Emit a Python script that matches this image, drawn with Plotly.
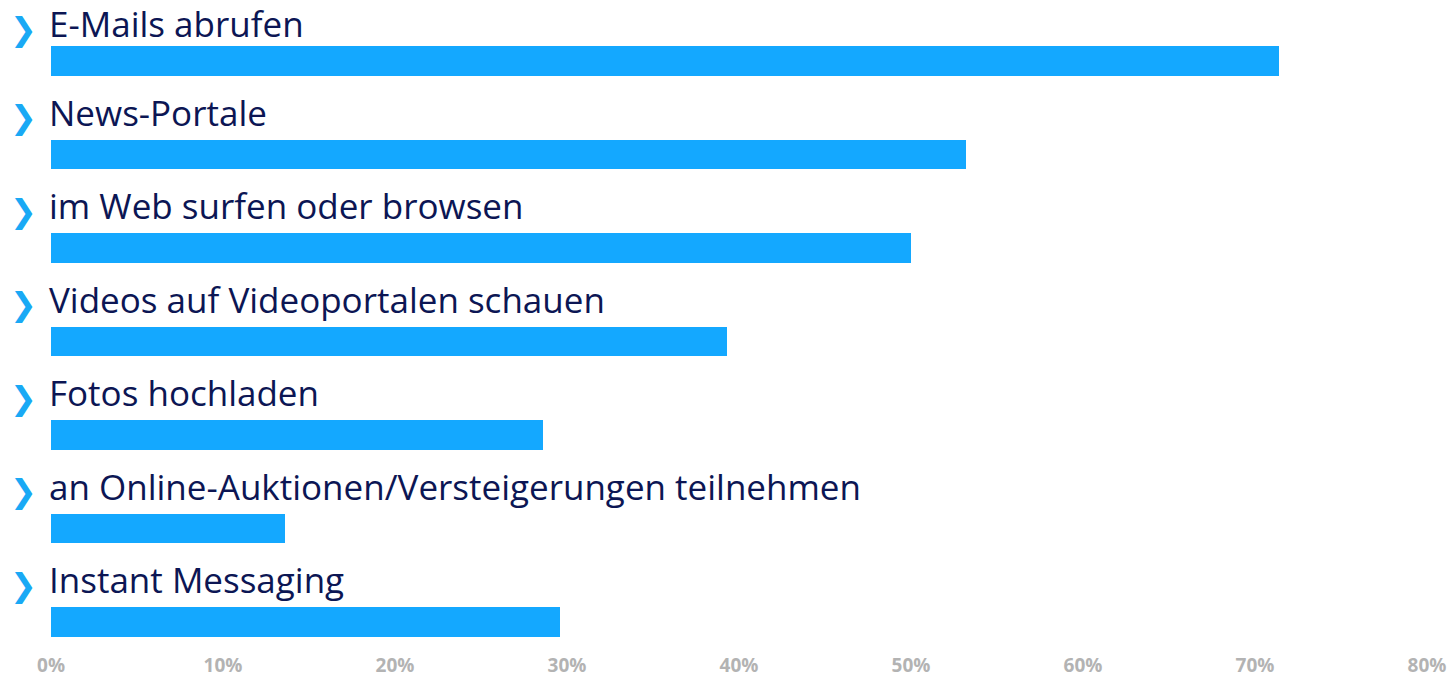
import plotly.graph_objects as go

categories = [
    "E-Mails abrufen",
    "News-Portale",
    "im Web surfen oder browsen",
    "Videos auf Videoportalen schauen",
    "Fotos hochladen",
    "an Online-Auktionen/Versteigerungen teilnehmen",
    "Instant Messaging",
]
values = [71.4, 53.2, 50.0, 39.3, 28.6, 13.6, 29.6]
tick_vals = [0, 10, 20, 30, 40, 50, 60, 70, 80]
tick_text = ["0%", "10%", "20%", "30%", "40%", "50%", "60%", "70%", "80%"]

BAR_COLOR = "#14a8ff"
TEXT_COLOR = "#0c1654"
ARROW_COLOR = "#19a9f5"

idx = list(range(len(categories)))

fig = go.Figure(
    go.Bar(
        x=values,
        y=idx,
        orientation="h",
        width=0.316,
        marker=dict(color=BAR_COLOR, line=dict(width=0)),
        hoverinfo="skip",
    )
)

annotations = []
for i, label in zip(idx, categories):
    # the topmost label is nudged down so it stays inside the canvas
    nudge = -5 if i == 0 else 0
    annotations.append(dict(
        x=0, y=i, xref="x", yref="y",
        text=label, showarrow=False,
        xanchor="left", yanchor="middle",
        xshift=-4, yshift=42 + nudge,
        font=dict(family="Open Sans", size=35, color=TEXT_COLOR),
    ))
    annotations.append(dict(
        x=0, y=i, xref="paper", yref="y",
        text="❯", showarrow=False,
        xanchor="left", yanchor="middle",
        xshift=-43, yshift=37 + nudge,
        font=dict(family="DejaVu Sans", size=32, color=ARROW_COLOR),
    ))

fig.update_layout(
    width=1455, height=678,
    margin=dict(l=51, r=28, t=5, b=35, autoexpand=False),
    paper_bgcolor="white", plot_bgcolor="white",
    showlegend=False,
    bargap=0,
    annotations=annotations,
    xaxis=dict(
        range=[0, 80], tickvals=tick_vals, ticktext=tick_text,
        showgrid=False, zeroline=False, showline=False, ticks="",
        ticklabelstandoff=9, automargin=False,
        tickfont=dict(family="Open Sans", size=19, color="#b3b3b3", weight="bold"),
        fixedrange=True,
    ),
    yaxis=dict(
        range=[6.227, -0.599], showticklabels=False,
        showgrid=False, zeroline=False, showline=False, ticks="",
        automargin=False, fixedrange=True,
    ),
)

fig.write_html(
    "out.html",
    config={"displayModeBar": False},
    post_script="document.body.style.margin='0px';",
)
